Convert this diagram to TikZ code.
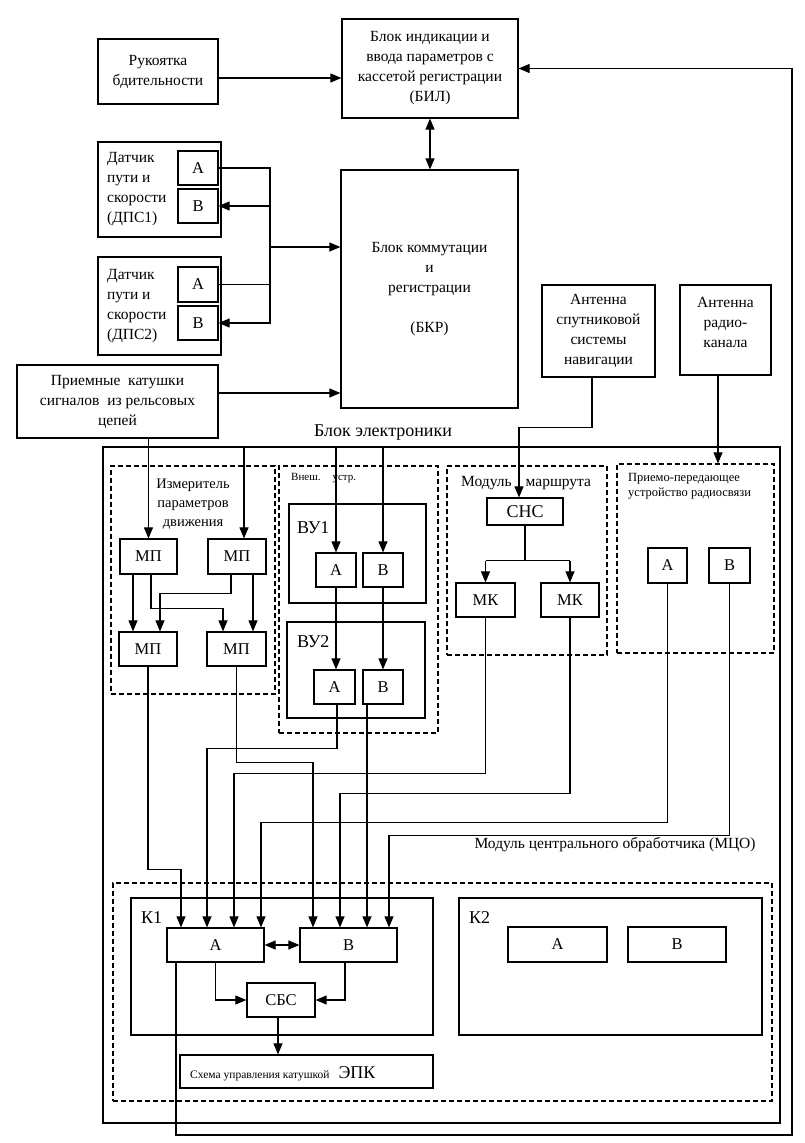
\documentclass[tikz,border=0pt]{standalone}
\usepackage{fontspec}
\setmainfont{Liberation Serif}
\usetikzlibrary{arrows.meta,calc}

\tikzset{
  blk/.style={draw, line width=1.2pt, inner sep=0pt, align=center},
  sblk/.style={blk, font=\fontsize{16.5}{18}\selectfont},
  wh/.style 2 args={minimum width=#1pt, minimum height=#2pt},
  dbox/.style={draw, line width=1.2pt, dash pattern=on 5pt off 3pt, inner sep=0pt},
  txt/.style={inner sep=0pt, align=center},
  wire/.style={line width=1.05pt},
  arr/.style={wire, -{Triangle[length=11pt,width=9pt]}},
  arrs/.style={wire, {Triangle[length=11pt,width=9pt]}-{Triangle[length=11pt,width=9pt]}},
  big/.style={font=\fontsize{18}{20}\selectfont},
  tiny/.style={font=\fontsize{11}{14}\selectfont}
}

\begin{document}
\begin{tikzpicture}[x=1pt, y=-1pt, font=\fontsize{15.5}{20}\selectfont]
            \useasboundingbox (0,0) rectangle (805,1143);

            % Top blocks
            \node[blk, wh={120}{65}] (ruk) at (158,71.5) {Рукоятка\\бдительности};
            \node[blk, wh={176}{99}] (bil) at (430,68.5) {Блок индикации и\\ввода параметров с\\кассетой регистрации\\(БИЛ)};
            \node[blk, wh={177}{238}] (bkr) at (429.5,289) {Блок коммутации\\и\\регистрации\\[20pt](БКР)};

            % Path and speed sensors
            \node[blk, wh={123}{95}] (dps1) at (159.5,189.5) {};
            \node[txt, anchor=west, align=left] (dps1t) at (107,189) {Датчик\\пути и\\скорости\\(ДПС1)};
            \node[sblk, wh={40}{34}] (dps1a) at (198,168) {А};
            \node[sblk, wh={40}{34}] (dps1b) at (198,206) {В};
            \node[blk, wh={123}{98}] (dps2) at (159.5,306) {};
            \node[txt, anchor=west, align=left] (dps2t) at (107,306) {Датчик\\пути и\\скорости\\(ДПС2)};
            \node[sblk, wh={40}{35}] (dps2a) at (198,284.5) {А};
            \node[sblk, wh={40}{34}] (dps2b) at (198,323) {В};
            \node[blk, wh={201}{73}] (prm) at (117.5,401.5) {Приемные\ \ катушки\\сигналов\ \ из рельсовых\\цепей};

            % Antennas
            \node[blk, wh={113}{92}] (sat) at (598.5,331) {Антенна\\спутниковой\\системы\\навигации};
            \node[blk, wh={91}{90}] (rant) at (725.5,330) {};
            \node[txt] (rantt) at (725.5,322) {Антенна\\радио-\\канала};

            % Electronics unit
            \node[blk, wh={677}{676}] (elec) at (441.5,785) {};
            \node[txt, big] (elect) at (383,433) {Блок электроники};
            \node[dbox, wh={164}{228}] (izm) at (193,580) {};
            \node[dbox, wh={159}{267}] (vnu) at (358.5,599.5) {};
            \node[dbox, wh={160}{189}] (mrs) at (527,560.5) {};
            \node[dbox, wh={157}{189}] (ppu) at (695.5,558.5) {};
            \node[dbox, wh={659}{218}] (mco) at (442.5,992) {};
            \node[txt, font=\fontsize{14.5}{19}\selectfont] (izmt) at (193,504) {Измеритель\\параметров\\движения};
            \node[txt, anchor=west, tiny] (vnut) at (291,478) {Внеш.\hspace{12pt}устр.};
            \node[txt, anchor=west] (mrst) at (461,483) {Модуль\hspace{14pt}маршрута};
            \node[txt, anchor=west, align=left, font=\fontsize{12.5}{15}\selectfont] (ppt) at (628,486) {Приемо-передающее\\устройство радиосвязи};
            \node[txt] (mcot) at (615,845) {Модуль центрального обработчика (МЦО)};

            % Motion parameters meter
            \node[sblk, wh={57}{35}] (mp1) at (148.5,556.5) {МП};
            \node[sblk, wh={58}{35}] (mp2) at (237,556.5) {МП};
            \node[sblk, wh={58}{34}] (mp3) at (148,649) {МП};
            \node[sblk, wh={59}{34}] (mp4) at (236.5,649) {МП};

            % External devices
            \node[blk, wh={137}{99}] (vu1) at (357.5,553.5) {};
            \node[txt, anchor=west, big] (vu1t) at (297,528) {ВУ1};
            \node[sblk, wh={40}{34}] (vu1a) at (336,570) {А};
            \node[sblk, wh={40}{34}] (vu1b) at (383,570) {В};
            \node[blk, wh={138}{96}] (vu2) at (356,670) {};
            \node[txt, anchor=west, big] (vu2t) at (297,642) {ВУ2};
            \node[sblk, wh={41}{34}] (vu2a) at (334.5,687) {А};
            \node[sblk, wh={40}{34}] (vu2b) at (383,687) {В};

            % Route module and radio
            \node[blk, big, wh={76}{27}] (snc) at (525,511.5) {СНС};
            \node[sblk, wh={59}{34}] (mk1) at (485.5,600) {МК};
            \node[sblk, wh={58}{34}] (mk2) at (570,600) {МК};
            \node[sblk, wh={39}{35}] (ra) at (667.5,565.5) {А};
            \node[sblk, wh={41}{35}] (rb) at (729.5,565.5) {В};

            % Central processor
            \node[blk, wh={302}{137}] (k1) at (282,966.5) {};
            \node[txt, anchor=west, big] (k1t) at (141,918) {К1};
            \node[sblk, wh={97}{34}] (k1a) at (215.5,945) {А};
            \node[sblk, wh={97}{34}] (k1b) at (348.5,945) {В};
            \node[sblk, wh={68}{34}] (sbs) at (281,1000) {СБС};
            \node[blk, wh={253}{33}] (epk) at (306.5,1071.5) {};
            \node[txt, anchor=base west] (epkt) at (190,1078) {{\fontsize{11.5}{14}\selectfont Схема управления катушкой}\hspace{9pt}{\fontsize{18}{20}\selectfont ЭПК}};
            \node[blk, wh={303}{137}] (k2) at (610.5,966.5) {};
            \node[txt, anchor=west, big] (k2t) at (469,918) {К2};
            \node[sblk, wh={99}{35}] (k2a) at (557.5,944.5) {А};
            \node[sblk, wh={98}{35}] (k2b) at (677,944.5) {В};

            % Top connections
            \draw[arr] ([yshift=-6.5]ruk.east) -- ([yshift=-6.5]ruk.east -| bil.west);
            \draw[arrs] (bil.south) -- (bil.south |- bkr.north);
            \coordinate (jn) at (270,247);
            \draw[arr] (dps1a.east) -| (jn) |- (dps2b.east);
            \draw[arr] (jn |- dps1b.east) -- (dps1b.east);
            \draw[wire] (dps2a.east) -- (dps2a.east -| jn);
            \draw[arr] (jn) -- (jn -| bkr.west);
            \draw[arr] ([yshift=8.5]prm.east) -- ([yshift=8.5]prm.east -| bkr.west);

            % Inputs of the electronics unit
            \draw[arr] (prm.south -| mp1.north) -- (mp1.north);
            \draw[arr] ([xshift=7]mp2.north |- elec.north) -- ([xshift=7]mp2.north);
            \draw[arr] (vu1a.north |- elec.north) -- (vu1a.north);
            \draw[arr] (vu1b.north |- elec.north) -- (vu1b.north);
            \draw[arr] ([xshift=-6.5]sat.south) -- ++(0,50) -| ([xshift=-6]snc.north);
            \draw[arr] ([xshift=-7.5]rant.south) -- ([xshift=-7.5]rant.south |- ppu.north);

            % Meter links
            \draw[arr] ([xshift=-15.5]mp1.south) -- ([xshift=-15.5]mp1.south |- mp3.north);
            \draw[arr] ([xshift=2.5]mp1.south) -- ++(0,34) -| ([xshift=-13.5]mp4.north);
            \draw[arr] ([xshift=-6]mp2.south) -- ++(0,19) -| ([xshift=12]mp3.north);
            \draw[arr] ([xshift=16]mp2.south) -- ([xshift=16]mp2.south |- mp4.north);
            \draw[arr] (vu1a.south) -- (vu1a.south |- vu2a.north);
            \draw[arr] (vu1b.south) -- (vu1b.south |- vu2b.north);

            % Route module links
            \draw[wire] (snc.south) -- ++(0,35) coordinate (spl);
            \draw[wire] (spl -| mk1.north) -- (spl -| mk2.north);
            \draw[arr] (spl -| mk1.north) -- (mk1.north);
            \draw[arr] (spl -| mk2.north) -- (mk2.north);

            % Lines into K1
            \draw[arr] (mp3.south) -- ++(0,203) -| ([xshift=-34.5]k1a.north);
            \draw[arr] ([xshift=2.5]vu2a.south) -- ++(0,44) -| ([xshift=-8.5]k1a.north);
            \draw[arr] (mk1.south) -- ++(0,156) -| ([xshift=18.5]k1a.north);
            \draw[arr] (ra.south) -- ++(0,239) -| ([xshift=45.5]k1a.north);
            \draw[arr] (mp4.south) -- ++(0,96) -| ([xshift=-35.5]k1b.north);
            \draw[arr] (mk2.south) -- ++(0,176) -| ([xshift=-8.5]k1b.north);
            \draw[arr] ([xshift=-16]vu2b.south) -- ([xshift=-16]vu2b.south |- k1b.north);
            \draw[arr] (rb.south) -- ++(0,252) -| ([xshift=40.5]k1b.north);

            % Inside K1
            \draw[arrs] (k1a.east) -- (k1b.west);
            \draw[arr] (k1a.south) |- (sbs.west);
            \draw[arr] ([xshift=-3.5]k1b.south) |- (sbs.east);
            \draw[arr] ([xshift=-3]sbs.south) -- ([xshift=-3]sbs.south |- epk.north);

            % Line from K1 back to the indication unit
            \coordinate (rc) at (792,1135);
            \draw[arr] ([xshift=-39.5]k1a.south) |- (rc) |- (bil.east);
\end{tikzpicture}
\end{document}
